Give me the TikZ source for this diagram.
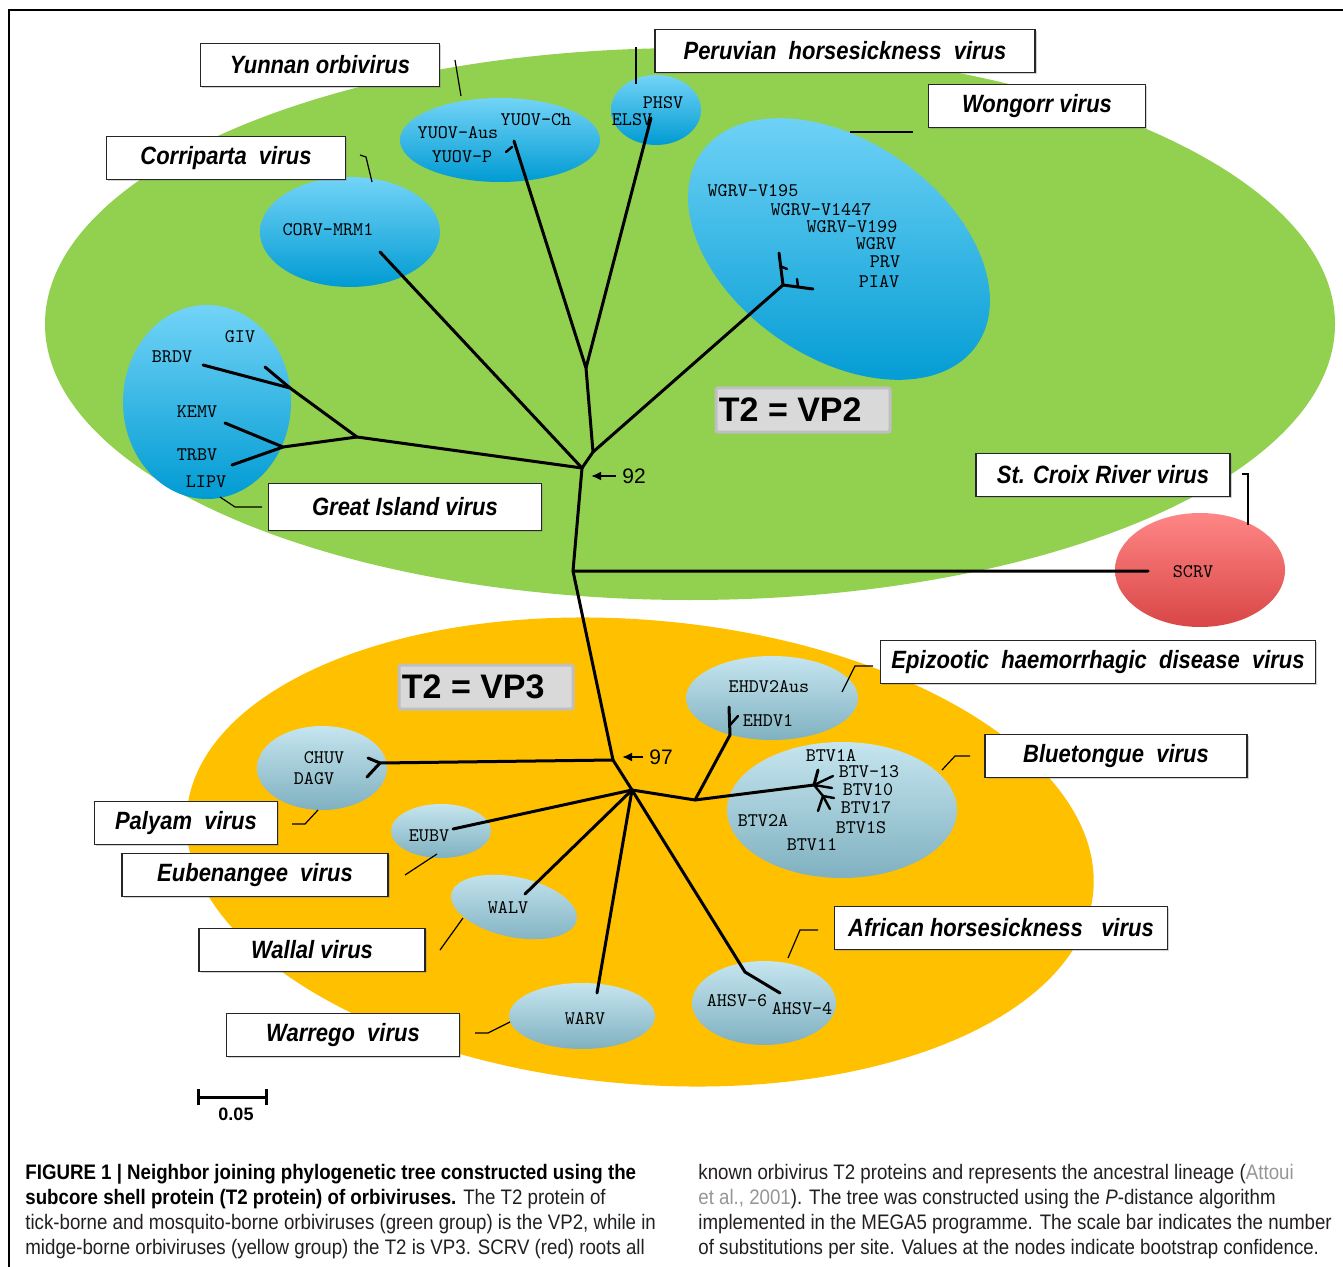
\documentclass[tikz,border=0pt]{standalone}
\usepackage{fontspec}
\setmainfont{Liberation Sans}
\newfontfamily\boxfont[FakeStretch=0.88]{Liberation Sans}
\newfontfamily\capfont[FakeStretch=0.89]{Liberation Sans}
\usetikzlibrary{arrows.meta,shadows}

\definecolor{vptwo}{RGB}{146,208,80}
\definecolor{vpthree}{RGB}{255,192,0}
\definecolor{tickblue}{RGB}{0,176,240}
\definecolor{midgeblue}{RGB}{150,208,226}
\definecolor{rootred}{RGB}{255,82,82}
\definecolor{citegray}{RGB}{150,150,150}
\definecolor{captext}{RGB}{35,31,32}

\tikzset{
  virusbox/.style={draw=black!85, fill=white, line width=0.8pt, minimum height=21.5pt, inner sep=0pt,
    drop shadow={shadow xshift=0.8pt, shadow yshift=-0.8pt, opacity=0.35},
    font=\boxfont\bfseries\itshape\fontsize{12.5}{14}\selectfont},
  leaf/.style={inner sep=0pt, text height=5.6pt, text depth=0pt, font=\ttfamily\fontsize{9.6}{10}\selectfont},
  branch/.style={line width=1.5pt, line cap=round, line join=round},
  twig/.style={line width=1.2pt, line cap=round},
  callout/.style={line width=0.6pt},
  tickell/.style={top color=tickblue!55!white, middle color=tickblue, bottom color=tickblue!88!black},
  midgeell/.style={top color=midgeblue!55!white, middle color=midgeblue, bottom color=midgeblue!85!black},
  tgroup/.style={draw=black!25, line width=1.5pt, fill=black!15, minimum width=87pt, minimum height=22pt, rounded corners=1pt},
  boot/.style={line width=1pt, -{Latex[length=5pt,width=4.5pt]}},
  capline/.style={anchor=base west, inner sep=0pt, text=captext, font=\capfont\fontsize{10.5}{12}\selectfont},
}

\begin{document}
\begin{tikzpicture}[x=0.5pt, y=-0.5pt]
	\useasboundingbox (0,0) rectangle (1343,1267);
	\fill[white] (0,0) rectangle (1343,1267);
	\draw[line width=0.6pt] (9,1267) -- (9,10) -- (1343,10);
	
	% Groups
	\fill[vptwo] (690,324) ellipse [x radius=645, y radius=276];
	\fill[vpthree, rotate around={-5:(640,852)}] (640,852) ellipse [x radius=455, y radius=232];
	
	% Clusters, VP2 group
	\shade[tickell] (500,140) ellipse [x radius=100, y radius=42];
	\shade[tickell] (656,110) ellipse [x radius=45, y radius=35];
	\shade[tickell, rotate around={-35:(839,249)}] (839,249) ellipse [x radius=168, y radius=108];
	\shade[tickell] (350,232) ellipse [x radius=90, y radius=55];
	\shade[tickell] (207,402) ellipse [x radius=84, y radius=97];
	\shade[top color=rootred!70!white, middle color=rootred, bottom color=rootred!85!black] (1200,570) ellipse [x radius=85, y radius=57];
	
	% Clusters, VP3 group
	\shade[midgeell] (772,698) ellipse [x radius=86, y radius=42];
	\shade[midgeell] (842,810) ellipse [x radius=115, y radius=68];
	\shade[midgeell] (322,768) ellipse [x radius=65, y radius=42];
	\shade[midgeell] (441,831) ellipse [x radius=50, y radius=27];
	\shade[midgeell, rotate around={-12:(514,907)}] (514,907) ellipse [x radius=64, y radius=30];
	\shade[midgeell] (582,1016) ellipse [x radius=73, y radius=33];
	\shade[midgeell] (764,1003) ellipse [x radius=72, y radius=42];
	
	% Group tags
	\node[tgroup] (vp2box) at (803,410) {};
	\node[anchor=west, inner sep=2pt, font=\bfseries\fontsize{17}{18}\selectfont] (vp2) at (vp2box.west) {T2 = VP2};
	\node[tgroup] (vp3box) at (486,687) {};
	\node[anchor=west, inner sep=2pt, font=\bfseries\fontsize{17}{18}\selectfont] (vp3) at (vp3box.west) {T2 = VP3};
	
	% Virus names
	\node[virusbox, minimum width=119.5pt] (yunnan) at (320,65) {Yunnan orbivirus};
	\node[virusbox, minimum width=190pt] (peru) at (845,51) {Peruvian\ \ horsesickness\ \ virus};
	\node[virusbox, minimum width=108.5pt] (wongorr) at (1037,106) {Wongorr virus};
	\node[virusbox, minimum width=119.5pt] (corri) at (226,158) {Corriparta\ \ virus};
	\node[virusbox, minimum width=136.5pt, minimum height=23.5pt] (greatisl) at (405,507) {Great Island virus};
	\node[virusbox, minimum width=127pt] (croix) at (1103,475) {St. Croix River virus};
	\node[virusbox, minimum width=217.5pt] (ehd) at (1098,662) {Epizootic\ \ haemorrhagic\ \ disease\ \ virus};
	\node[virusbox, minimum width=131pt] (blue) at (1116,756) {Bluetongue\ \ virus};
	\node[virusbox, minimum width=91.5pt] (palyam) at (186,823) {Palyam\ \ virus};
	\node[virusbox, minimum width=133pt] (eubena) at (255,875) {Eubenangee\ \ virus};
	\node[virusbox, minimum width=113pt] (wallal) at (312,950) {Wallal virus};
	\node[virusbox, minimum width=166.5pt] (african) at (1001,928) {African\ horsesickness\ \ \ virus};
	\node[virusbox, minimum width=116.5pt] (warrego) at (343,1035) {Warrego\ \ virus};
	
	% Callouts
	\draw[callout] (455,60) -- (461,96);
	\draw[callout] (636,47) -- (636,84);
	\draw[callout] (850,132) -- (913,132);
	\draw[callout] (360,155) -- (366,157) -- (372,182);
	\draw[callout] (220,497) -- (235,507) -- (262,507);
	\draw[callout] (1242,474) -- (1248,474) -- (1248,525);
	\draw[callout] (842,692) -- (855,666) -- (873,666);
	\draw[callout] (942,770) -- (955,756) -- (970,756);
	\draw[callout] (292,824) -- (305,824) -- (318,810);
	\draw[callout] (405,875) -- (437,854);
	\draw[callout] (440,950) -- (463,918);
	\draw[callout] (475,1033) -- (488,1033) -- (510,1022);
	\draw[callout] (788,958) -- (800,930) -- (818,930);
	
	% Tree nodes
	\coordinate (r) at (573,571);
	\coordinate (scrv) at (1148,571);
	\coordinate (n92) at (582,468);
	\coordinate (gi) at (357,437);
	\coordinate (gia) at (290,388);
	\coordinate (brdv) at (203,365);
	\coordinate (giv) at (265,367);
	\coordinate (gib) at (283,447);
	\coordinate (kemv) at (225,423);
	\coordinate (trbv) at (232,465);
	\coordinate (corv) at (380,252);
	\coordinate (wa) at (593,452);
	\coordinate (py) at (586,368);
	\coordinate (yuov) at (514,141);
	\coordinate (yuovs) at (512,147);
	\coordinate (yuovp) at (506,152);
	\coordinate (phsv) at (651,118);
	\coordinate (wg) at (783,285);
	\coordinate (wgup) at (779,253);
	\coordinate (wgs) at (780,266);
	\coordinate (wgt) at (787,269);
	\coordinate (wgr) at (813,289);
	\coordinate (wgu) at (798,287);
	\coordinate (wgv) at (797,279);
	\coordinate (n97) at (613,760);
	\coordinate (chuvf) at (380,763);
	\coordinate (chuv) at (368,758);
	\coordinate (dagv) at (367,777);
	\coordinate (n2) at (632,790);
	\coordinate (eubv) at (453,829);
	\coordinate (walv) at (525,894);
	\coordinate (warv) at (597,993);
	\coordinate (ahsvk) at (745,972);
	\coordinate (ahsv) at (780,993);
	\coordinate (eb) at (695,800);
	\coordinate (eh) at (730,735);
	\coordinate (ehup) at (729,707);
	\coordinate (ehs) at (730,725);
	\coordinate (ehdv) at (738,716);
	\coordinate (bt) at (814,785);
	\coordinate (btup) at (818,770);
	\coordinate (bta) at (833,776);
	\coordinate (btb) at (832,788);
	\coordinate (btc) at (823,796);
	\coordinate (btd) at (834,798);
	\coordinate (bte) at (830,809);
	\coordinate (btf) at (818,811);
	
	% Branches
	\draw[branch] (scrv) -- (r) -- (n92);
	\draw[branch] (n92) -- (gi) -- (gia) -- (brdv);
	\draw[branch] (gia) -- (giv);
	\draw[branch] (gi) -- (gib) -- (kemv);
	\draw[branch] (gib) -- (trbv);
	\draw[branch] (n92) -- (corv);
	\draw[branch] (n92) -- (wa) -- (py) -- (yuov);
	\draw[branch] (py) -- (phsv);
	\draw[twig] (yuovs) -- (yuovp);
	\draw[branch] (wa) -- (wg) -- (wgup);
	\draw[branch] (wg) -- (wgr);
	\draw[twig] (wgs) -- (wgt);
	\draw[twig] (wgu) -- (wgv);
	\draw[branch] (r) -- (n97) -- (chuvf) -- (chuv);
	\draw[branch] (chuvf) -- (dagv);
	\draw[branch] (n97) -- (n2) -- (eubv);
	\draw[branch] (n2) -- (walv);
	\draw[branch] (n2) -- (warv);
	\draw[branch] (n2) -- (ahsvk) -- (ahsv);
	\draw[branch] (n2) -- (eb) -- (eh) -- (ehup);
	\draw[twig] (ehs) -- (ehdv);
	\draw[branch] (eb) -- (bt) -- (btup);
	\draw[twig] (bt) -- (bta);
	\draw[twig] (bt) -- (btb);
	\draw[twig] (bt) -- (btc) -- (btd);
	\draw[twig] (btc) -- (bte);
	\draw[twig] (btc) -- (btf);
	
	% Bootstrap values
	\node[inner sep=0pt, font=\fontsize{10.5}{12}\selectfont] (b92) at (634,476) {92};
	\coordinate (a92) at (591,476);
	\draw[boot] (b92.west) ++(-6,0) -- (a92);
	\node[inner sep=0pt, font=\fontsize{10.5}{12}\selectfont] (b97) at (661,757) {97};
	\coordinate (a97) at (622,757);
	\draw[boot] (b97.west) ++(-6,0) -- (a97);
	
	% Leaves
	\node[leaf] (lyuovch) at (536,120) {YUOV-Ch};
	\node[leaf] (lyuovaus) at (458,133) {YUOV-Aus};
	\node[leaf] (lyuovp) at (462,157) {YUOV-P};
	\node[leaf] (lphsv) at (663,103) {PHSV};
	\node[leaf] (lelsv) at (632,120) {ELSV};
	\node[leaf] (lwgra) at (753,191) {WGRV-V195};
	\node[leaf] (lwgrb) at (821,210) {WGRV-V1447};
	\node[leaf] (lwgrc) at (852,227) {WGRV-V199};
	\node[leaf] (lwgrv) at (876,244) {WGRV};
	\node[leaf] (lprv) at (885,262) {PRV};
	\node[leaf] (lpiav) at (879,282) {PIAV};
	\node[leaf] (lcorv) at (328,230) {CORV-MRM1};
	\node[leaf] (lgiv) at (240,337) {GIV};
	\node[leaf] (lbrdv) at (172,357) {BRDV};
	\node[leaf] (lkemv) at (197,412) {KEMV};
	\node[leaf] (ltrbv) at (197,455) {TRBV};
	\node[leaf] (llipv) at (206,482) {LIPV};
	\node[leaf] (lscrv) at (1193,572) {SCRV};
	\node[leaf] (lehdvaus) at (769,687) {EHDV2Aus};
	\node[leaf] (lehdv) at (768,721) {EHDV1};
	\node[leaf] (lbtva) at (831,756) {BTV1A};
	\node[leaf] (lbtvb) at (869,772) {BTV-13};
	\node[leaf] (lbtvc) at (868,790) {BTV10};
	\node[leaf] (lbtvd) at (866,808) {BTV17};
	\node[leaf] (lbtve) at (861,828) {BTV1S};
	\node[leaf] (lbtvf) at (763,821) {BTV2A};
	\node[leaf] (lbtvg) at (812,845) {BTV11};
	\node[leaf] (lchuv) at (324,758) {CHUV};
	\node[leaf] (ldagv) at (314,779) {DAGV};
	\node[leaf] (leubv) at (429,836) {EUBV};
	\node[leaf] (lwalv) at (508,908) {WALV};
	\node[leaf] (lwarv) at (585,1019) {WARV};
	\node[leaf] (lahsvs) at (737,1001) {AHSV-6};
	\node[leaf] (lahsvf) at (802,1009) {AHSV-4};
	
	% Scale bar
	\coordinate (sb1) at (197,1097);
	\coordinate (sb2) at (268,1097);
	\draw[line width=1.5pt, {Bar[width=8pt]}-{Bar[width=8pt]}] (sb1) -- (sb2);
	\node[inner sep=0pt, font=\bfseries\fontsize{9}{10}\selectfont] (sbl) at (236,1114) {0.05};
	
	% Caption
	\node[capline, text=black] (cap1) at (25,1179) {\bfseries FIGURE 1 | Neighbor joining phylogenetic tree constructed using the};
	\node[capline] (cap2) at (25,1204) {{\color{black}\bfseries subcore shell protein (T2 protein) of orbiviruses.} The T2 protein of};
	\node[capline] (cap3) at (25,1229) {tick-borne and mosquito-borne orbiviruses (green group) is the VP2, while in};
	\node[capline] (cap4) at (25,1254) {midge-borne orbiviruses (yellow group) the T2 is VP3. SCRV (red) roots all};
	\node[capline] (cap5) at (698,1179) {known orbivirus T2 proteins and represents the ancestral lineage ({\color{citegray}Attoui}};
	\node[capline] (cap6) at (698,1204) {{\color{citegray}et al., 2001}). The tree was constructed using the \textit{P}-distance algorithm};
	\node[capline] (cap7) at (698,1229) {implemented in the MEGA5 programme. The scale bar indicates the number};
	\node[capline] (cap8) at (698,1254) {of substitutions per site. Values at the nodes indicate bootstrap confidence.};
	
\end{tikzpicture}
\end{document}
